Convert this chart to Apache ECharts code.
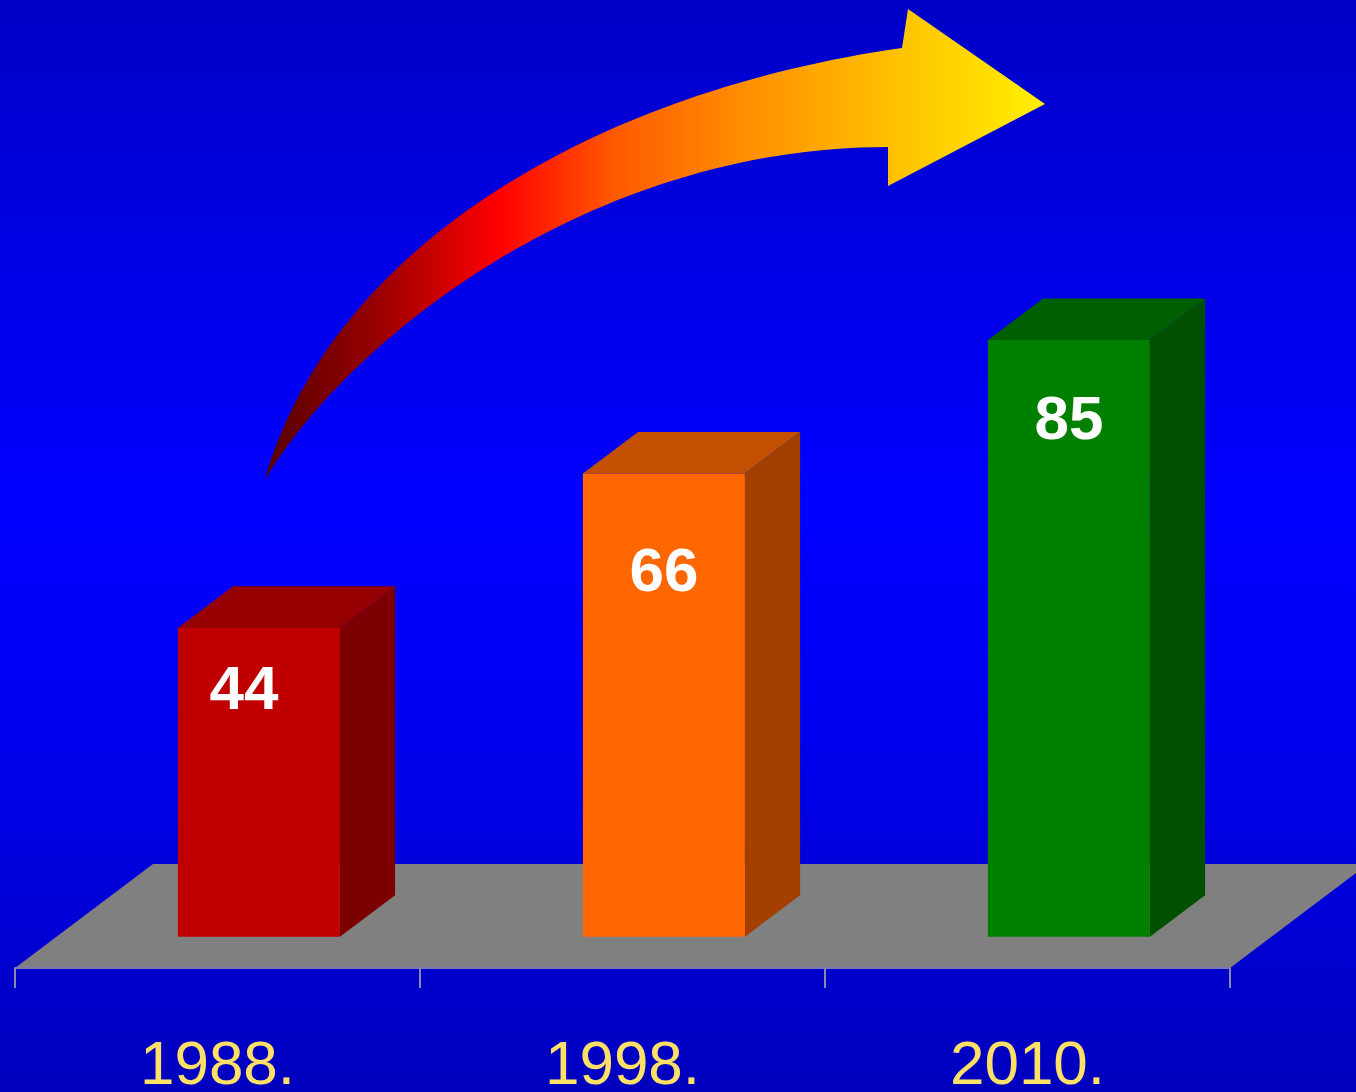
<!DOCTYPE html>
<html>
<head>
<meta charset="utf-8">
<script src="https://cdn.jsdelivr.net/npm/echarts@6/dist/echarts.min.js"></script>
<style>
  html, body { margin: 0; padding: 0; background: #0000d0; }
  #chart { width: 1356px; height: 1092px; }
</style>
</head>
<body>
<div id="chart"></div>
<script>
// ---- data ----
const categories = ['1988.', '1998.', '2010.'];
const values = [44, 66, 85];

// ---- style / layout constants ----
const FRONT = ['#c00000', '#ff6600', '#008000'];
const SIDE  = ['#7d0000', '#a34000', '#005000'];
const TOP   = ['#960000', '#c25000', '#005f00'];
const DEPTH = [138, -104];          // floor depth vector (px)
const BAR_OFFSET = 0.3, BAR_DEPTH = 0.4, BAR_WIDTH = 0.4;
const LABEL_DX = [-15, 0, 0];
const LABEL_DY = [64, 100, 82];

const chart = echarts.init(document.getElementById('chart'), null, { renderer: 'canvas' });

// decorative arrow outline (px)
const arrowPath = 'M265 480 C334 240 605 90 902 48 L908 9 L1045 104 L888 186 L888 147 C588 147 347 342 265 480 Z';

const option = {
  animation: false,
  graphic: [
    {
      type: 'rect', z: -100, silent: true,
      shape: { x: 0, y: 0, width: 1356, height: 1092 },
      style: {
        fill: {
          type: 'linear', x: 0, y: 0, x2: 0, y2: 1,
          colorStops: [
            { offset: 0, color: '#0000c6' },
            { offset: 0.45, color: '#0000ff' },
            { offset: 0.62, color: '#0000f6' },
            { offset: 1, color: '#0000bd' }
          ]
        }
      }
    }
  ],
  grid: { left: 15, right: 126, top: 266, bottom: 124, containLabel: false, outerBoundsMode: 'none' },
  xAxis: {
    type: 'category',
    data: categories,
    boundaryGap: true,
    axisLine: { show: true, lineStyle: { color: '#7a7ab4', width: 2 } },
    axisTick: { show: true, length: 20, alignWithLabel: false, lineStyle: { color: '#8a8aa8', width: 2 } },
    axisLabel: {
      color: '#ffe066', fontSize: 62, fontFamily: '"Liberation Sans", Arial, sans-serif',
      margin: 68
    },
    z: 5
  },
  yAxis: { type: 'value', min: 0, max: 100, show: false },
  series: [
    {
      type: 'custom', z: 1, clip: false, silent: true,
      data: [[0]],
      renderItem: function (params, api) {
        return {
          type: 'path',
          shape: { pathData: arrowPath },
          style: {
            fill: {
              type: 'linear', x: 265, y: 0, x2: 1045, y2: 0, global: true,
              colorStops: [
                { offset: 0, color: '#560000' },
                { offset: 0.14, color: '#960000' },
                { offset: 0.3, color: '#ff0000' },
                { offset: 0.45, color: '#ff5a00' },
                { offset: 0.62, color: '#ff9000' },
                { offset: 0.82, color: '#ffc400' },
                { offset: 1, color: '#fff000' }
              ]
            }
          }
        };
      }
    },
    {
      type: 'custom', z: 1, clip: false, silent: true,
      data: [[0]],
      renderItem: function (params, api) {
        const cs = params.coordSys;
        const fy = cs.y + cs.height;
        const l = cs.x, r = cs.x + cs.width;
        return {
          type: 'polygon',
          shape: { points: [[l, fy], [r, fy], [r + DEPTH[0], fy + DEPTH[1]], [l + DEPTH[0], fy + DEPTH[1]]] },
          style: { fill: '#808080' }
        };
      }
    },
    {
      type: 'custom', z: 3, clip: false, silent: true,
      data: values.map((v, i) => [i, v]),
      renderItem: function (params, api) {
        const i = api.value(0), v = api.value(1);
        const base = api.coord([i, 0]);
        const top = api.coord([i, v]);
        const band = api.size([1, 0])[0];
        const w = band * BAR_WIDTH;
        const fx = base[0] - w / 2 + DEPTH[0] * BAR_OFFSET;
        const fy = base[1] + DEPTH[1] * BAR_OFFSET;
        const ty = top[1] + DEPTH[1] * BAR_OFFSET;
        const dx = DEPTH[0] * BAR_DEPTH, dy = DEPTH[1] * BAR_DEPTH;
        const idx = params.dataIndex;
        return {
          type: 'group',
          children: [
            { type: 'polygon', shape: { points: [[fx + w, ty], [fx + w + dx, ty + dy], [fx + w + dx, fy + dy], [fx + w, fy]] }, style: { fill: SIDE[idx] } },
            { type: 'polygon', shape: { points: [[fx, ty], [fx + dx, ty + dy], [fx + w + dx, ty + dy], [fx + w, ty]] }, style: { fill: TOP[idx] } },
            { type: 'rect', shape: { x: fx, y: ty, width: w, height: fy - ty }, style: { fill: FRONT[idx] } },
            {
              type: 'text',
              style: {
                text: String(v),
                x: fx + w / 2 + LABEL_DX[idx],
                y: ty + LABEL_DY[idx],
                fill: '#ffffff',
                fontSize: 62, fontWeight: 'bold',
                fontFamily: '"Liberation Sans", Arial, sans-serif',
                align: 'center', verticalAlign: 'middle'
              }
            }
          ]
        };
      }
    }
  ]
};
chart.setOption(option);
</script>
</body>
</html>
